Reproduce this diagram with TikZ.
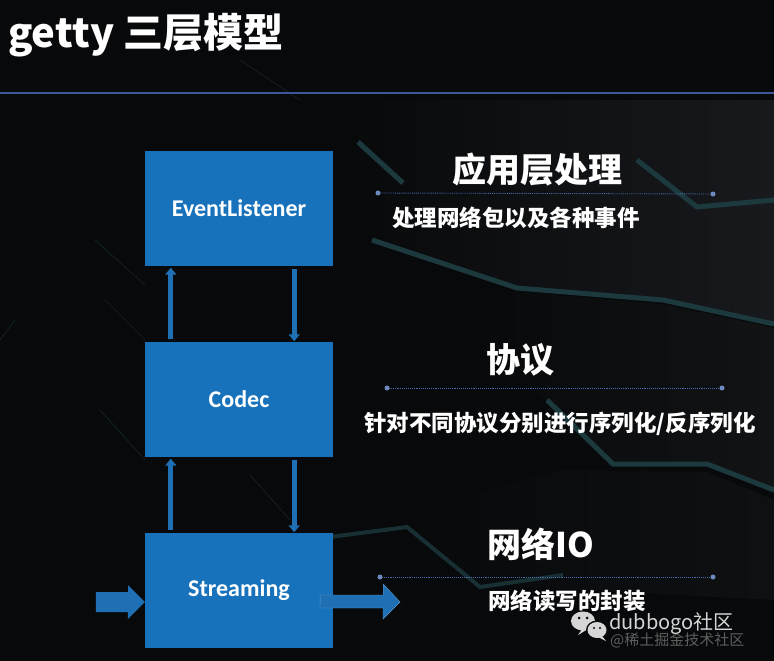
\documentclass[tikz,border=0pt]{standalone}
\usepackage{fontspec}
\newfontfamily\cjk{Noto Sans CJK SC}
\newfontfamily\carl{Carlito}
\usetikzlibrary{arrows.meta}
\definecolor{bg}{HTML}{07090B}
\definecolor{boxblue}{HTML}{1872BB}
\definecolor{arrblue}{HTML}{1E6FB3}
\definecolor{rule}{HTML}{3D5699}
\definecolor{dotline}{HTML}{4A6BB0}
\definecolor{face}{HTML}{17191C}
\definecolor{faceb}{HTML}{111315}
\definecolor{teal}{HTML}{1C3A3E}
\definecolor{wm}{HTML}{D6D6D6}
\definecolor{wmgray}{HTML}{5E5E5E}
\tikzset{
  layerbox/.style={fill=boxblue, minimum width=188pt, minimum height=115pt, inner sep=0pt,
    text=white, font=\carl\bfseries\fontsize{24}{28}\selectfont},
  thinarrow/.style={draw=arrblue, line width=5pt, -{Triangle[width=11pt,length=7pt]}},
  bigarrow/.style={fill=arrblue},
  heading/.style={text=white, font=\cjk\bfseries\fontsize{34}{40}\selectfont, inner sep=0pt},
  sub/.style={text=white, font=\cjk\bfseries\fontsize{22.5}{26}\selectfont, inner sep=0pt},
  sepline/.style={draw=dotline, densely dotted, line width=0.9pt},
  sepdot/.style={fill=dotline!80!white, circle, inner sep=0pt, minimum size=5pt},
  edgeband/.style={draw=teal, line width=5pt, line join=miter},
}
\begin{document}
\begin{tikzpicture}[x=1pt,y=-1pt]
\fill[bg] (0,0) rectangle (774,661);
\useasboundingbox (0,0) rectangle (774,661);
% faint background terraces
\shade[left color=bg, right color=face] (345,100) -- (774,100) -- (774,322) -- (663,298) -- (517,286) -- (372,238) -- (345,160) -- cycle;
\shade[left color=bg, right color=faceb] (517,292) -- (663,304) -- (774,328) -- (774,490) -- (707,466) -- (613,466) -- (547,402) -- (470,340) -- cycle;
\shade[left color=bg, right color=faceb!70!bg] (400,515) -- (480,585) -- (774,600) -- (774,500) -- (707,472) -- (560,470) -- cycle;
\draw[edgeband] (372,240) -- (517,288) -- (663,300) -- (774,324);
\draw[edgeband] (637,160) -- (697,207) -- (774,200);
\draw[edgeband] (358,142) -- (403,183);
\draw[edgeband] (547,400) -- (613,464) -- (707,464) -- (774,490);
\draw[edgeband, draw=teal!80!bg, line width=4pt] (330,537) -- (407,527) -- (480,587) -- (563,575);
\draw[teal!60!bg, line width=0.6pt] (95,240) -- (145,285);
\draw[teal!60!bg, line width=0.6pt] (105,300) -- (145,340);
\draw[teal!60!bg, line width=0.6pt] (100,410) -- (145,460);
\draw[teal!60!bg, line width=0.6pt] (0,340) -- (15,320);
\draw[teal!60!bg, line width=0.6pt] (240,60) -- (300,100);
\draw[teal!60!bg, line width=0.6pt] (250,475) -- (290,520);
% title and rule
\node[anchor=base west, inner sep=0pt, text=white, font=\cjk\bfseries\fontsize{40}{46}\selectfont] (title) at (8,48) {getty 三层模型};
\coordinate (ruleL) at (0,93);
\coordinate (ruleR) at (774,93);
\draw[rule, line width=1.3pt] (ruleL) -- (ruleR);
% boxes
\node[layerbox] (el) at (239,208) {EventListener};
\node[layerbox] (co) at (239,399) {Codec};
\node[layerbox] (st) at (239,590) {Streaming};
% vertical arrows
\draw[thinarrow] ([xshift=26pt,yshift=2pt]co.north west) -- ([xshift=26pt,yshift=-2pt]el.south west);
\draw[thinarrow] ([xshift=-39pt,yshift=-3pt]el.south east) -- ([xshift=-39pt]co.north east);
\draw[thinarrow] ([xshift=26pt,yshift=2pt]st.north west) -- ([xshift=26pt,yshift=-2pt]co.south west);
\draw[thinarrow] ([xshift=-39pt,yshift=-3pt]co.south east) -- ([xshift=-39pt]st.north east);
% big in/out arrows
\coordinate (inL) at (96,602);
\coordinate (outR) at (400,602);
\fill[bigarrow] (inL) ++(0,-10) -- ++(32,0) -- ++(0,-7) -- (st.west |- inL) -- ++(-17,17) -- ++(0,-7) -- ++(-32,0) -- cycle;
\filldraw[bigarrow, draw=arrblue!70!white, line width=0.4pt] ([xshift=-13pt]st.east |- outR) ++(0,-7) -- ++(63,0) -- ++(0,-11) -- (outR) -- ++(-17,17) -- ++(0,-11) -- ++(-63,0) -- cycle;
% right column
\node[heading] (h1) at (537,170) {应用层处理};
\coordinate (l1a) at (378,193); \coordinate (l1b) at (713,194);
\draw[sepline] (l1a) -- (l1b);
\node[sepdot] at (l1a) {}; \node[sepdot] at (l1b) {};
\node[sub] (s1) at (516,218) {处理网络包以及各种事件};
\node[heading] (h2) at (520,360) {协议};
\coordinate (l2a) at (387,388); \coordinate (l2b) at (722,388);
\draw[sepline] (l2a) -- (l2b);
\node[sepdot] at (l2a) {}; \node[sepdot] at (l2b) {};
\node[sub] (s2) at (560,424) {针对不同协议分别进行序列化/反序列化};
\node[heading] (h3) at (541,544) {网络IO};
\coordinate (l3a) at (380,577); \coordinate (l3b) at (713,577);
\draw[sepline] (l3a) -- (l3b);
\node[sepdot] at (l3a) {}; \node[sepdot] at (l3b) {};
\node[sub] (s3) at (567,601) {网络读写的封装};
% watermark
\node[anchor=base west, inner sep=0pt, text=wmgray, font=\cjk\fontsize{15}{18}\selectfont] (wm2) at (610,645) {@稀土掘金技术社区};
\fill[wm] (583,621) ellipse (12 and 9.5);
\fill[wm] (582,629) -- (578,635) -- (588,629) -- cycle;
\fill[bg] (597,630) ellipse (11 and 9.5);
\fill[wm] (597,630) ellipse (9.5 and 8);
\fill[wm] (602,636) -- (606,641) -- (598,637) -- cycle;
\fill[bg] (579,618) circle (1.5); \fill[bg] (587,618) circle (1.5);
\fill[bg] (594,628) circle (1.2); \fill[bg] (600,628) circle (1.2);
\node[anchor=base west, inner sep=0pt, text=wm, font=\cjk\fontsize{20}{24}\selectfont] (wm1) at (609,629) {dubbogo社区};
\end{tikzpicture}
\end{document}
